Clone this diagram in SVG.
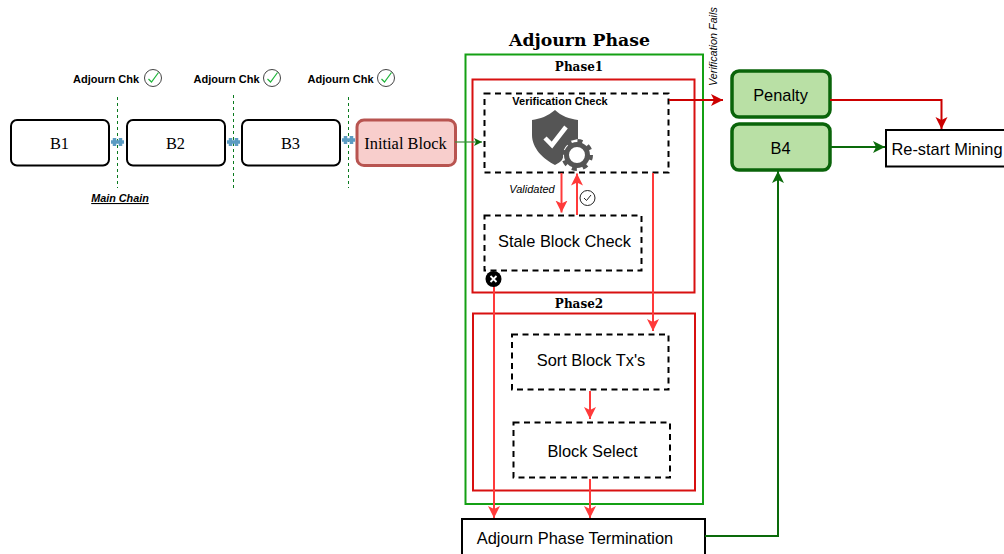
<svg xmlns="http://www.w3.org/2000/svg" width="1004" height="554" viewBox="0 0 1004 554">
<style>
.s{font-family:"Liberation Serif","Times New Roman",serif;fill:#000}
.d{font-family:"DejaVu Serif",serif;font-weight:bold;fill:#000}
.a{font-family:"Liberation Sans",Arial,sans-serif;fill:#000}
.b{fill:#fff;stroke:#000;stroke-width:2}
.t{font-size:16.400px;text-anchor:middle}
.dash{fill:none;stroke:#000;stroke-width:2;stroke-dasharray:6 4.500}
.vd{stroke:#0a7a1e;stroke-width:1;stroke-dasharray:3 3;fill:none}
.rb{fill:none;stroke:#d81010;stroke-width:2}
.c{fill:none;stroke:#ff3a3a;stroke-width:2}
.cr{fill:none;stroke:#cc0000;stroke-width:2}
.cg{fill:none;stroke:#0a6a0a;stroke-width:2}
.g{fill:#b9e0a5;stroke:#0a640a;stroke-width:3.500}
.k{font-size:11px;font-weight:bold;text-anchor:middle}
</style>
<defs>
<marker id="mr" markerUnits="userSpaceOnUse" markerWidth="14" markerHeight="14" refX="12" refY="6" orient="auto"><path d="M0 0L12 6L0 12L3 6Z" fill="#ff3a3a"/></marker>
<marker id="mc" markerUnits="userSpaceOnUse" markerWidth="14" markerHeight="14" refX="12" refY="6" orient="auto"><path d="M0 0L12 6L0 12L3 6Z" fill="#cc0000"/></marker>
<marker id="mg" markerUnits="userSpaceOnUse" markerWidth="14" markerHeight="14" refX="12" refY="6" orient="auto"><path d="M0 0L12 6L0 12L3 6Z" fill="#0a6a0a"/></marker>
<marker id="ms" markerUnits="userSpaceOnUse" markerWidth="10" markerHeight="10" refX="8" refY="4" orient="auto"><path d="M0 0L8 4L0 8L2 4Z" fill="#0a6a0a"/></marker>
<g id="tick"><circle cx="0" cy="0" r="8.500" fill="#fff" stroke="#444" stroke-width="1"/><path d="M-4.500 1L-1.500 4L5.500 -5.500" fill="none" stroke="#1fb53a" stroke-width="1.200"/></g>
<g id="link"><path d="M-6.500 0H6.500" stroke="#5b9bc2" stroke-width="3.500"/><path d="M-3 -4V4M3 -4V4" stroke="#5b9bc2" stroke-width="3.500"/></g>
</defs>

<g id="labels">
<text class="a k" x="106" y="83">Adjourn Chk</text><use href="#tick" x="153" y="78"/>
<text class="a k" x="226.500" y="83">Adjourn Chk</text><use href="#tick" x="272" y="78"/>
<text class="a k" x="340.500" y="83">Adjourn Chk</text><use href="#tick" x="386" y="78"/>
<text class="a" x="120" y="202" font-size="10.800" font-weight="bold" font-style="italic" text-anchor="middle" text-decoration="underline">Main Chain</text>
<text class="d" x="579.500" y="45.500" font-size="17.300" text-anchor="middle">Adjourn Phase</text>
<text class="d" x="579" y="71" font-size="12" text-anchor="middle">Phase1</text>
<text class="d" x="579" y="308" font-size="12" text-anchor="middle">Phase2</text>
<text class="a" x="532" y="193" font-size="11" font-style="italic" text-anchor="middle">Validated</text>
<text class="a" transform="translate(717 86) rotate(-90)" font-size="10.800" font-style="italic">Verification Fails</text>
</g>

<g id="chain-separators">
<path class="vd" d="M117.500 97V188"/><path class="vd" d="M233.500 95V190"/><path class="vd" d="M348.500 97V188"/>
</g>

<g id="phase-boxes">
<rect x="465.500" y="54.500" width="237.500" height="449.500" fill="none" stroke="#14a014" stroke-width="2"/>
<rect id="phase1" class="rb" x="472.500" y="79.500" width="222" height="213"/>
<rect id="phase2" class="rb" x="473" y="313.500" width="222" height="177"/>
</g>

<g id="B1"><rect class="b" x="11" y="120" width="98" height="45.500" rx="6"/><text class="s t" x="59.500" y="149">B1</text></g>
<g id="B2"><rect class="b" x="127" y="120" width="98" height="45.500" rx="6"/><text class="s t" x="175.500" y="149">B2</text></g>
<g id="B3"><rect class="b" x="242" y="120" width="98" height="45.500" rx="6"/><text class="s t" x="290.500" y="149">B3</text></g>
<g id="initial-block"><rect x="357" y="120" width="98.500" height="45.500" rx="7" fill="#f8cecc" stroke="#b85450" stroke-width="3"/><text class="s t" x="405.500" y="149">Initial Block</text></g>

<g id="verification-check">
<rect class="dash" x="484.500" y="93.500" width="184" height="79"/>
<text class="a" x="560" y="105" font-size="11" font-weight="bold" text-anchor="middle">Verification Check</text>
<path d="M555 110C548 116 540 119 532 120V135C532 148 543 159 555 165C558 163.500 560 162 562 160L570 141L578 139V120C570 119 561 116 555 110Z" fill="#555"/>
<path d="M545 138L552 145L566 127" fill="none" stroke="#fff" stroke-width="4.500"/>
<circle cx="577" cy="155" r="11.500" fill="#fff" stroke="#fff" stroke-width="5"/>
<circle cx="577" cy="155" r="10.500" fill="none" stroke="#555" stroke-width="5"/>
<circle cx="577" cy="155" r="14" fill="none" stroke="#555" stroke-width="4" stroke-dasharray="5 6"/>
</g>

<g id="stale-block-check"><rect class="dash" x="484.500" y="215.500" width="157" height="55"/><text class="a t" x="564.500" y="247">Stale Block Check</text></g>
<g id="sort-block"><rect class="dash" x="512" y="334.500" width="156.500" height="55"/><text class="a t" x="591" y="366">Sort Block Tx's</text></g>
<g id="block-select"><rect class="dash" x="513.500" y="422.500" width="156.500" height="55"/><text class="a t" x="592.500" y="457">Block Select</text></g>

<g id="termination"><rect class="b" x="462" y="519" width="243" height="40"/><text class="a t" x="575" y="544">Adjourn Phase Termination</text></g>
<g id="penalty"><rect class="g" x="732" y="71" width="98" height="46" rx="7"/><text class="a t" x="780.500" y="101">Penalty</text></g>
<g id="B4"><rect class="g" x="732" y="124" width="98" height="46" rx="7"/><text class="a t" x="780.500" y="154">B4</text></g>
<g id="restart"><rect class="b" x="886" y="130" width="124" height="36.500"/><text class="a t" x="947" y="155">Re-start Mining</text></g>

<g id="connectors">
<use href="#link" x="117.500" y="142"/>
<use href="#link" x="233.500" y="142"/>
<use href="#link" x="348.500" y="140"/>
<path d="M455 142H482" fill="none" stroke="#3c8c3c" stroke-width="1.200" marker-end="url(#ms)"/>
<path class="c" d="M561.500 173V212.500" marker-end="url(#mr)"/>
<path class="c" d="M577 215V173.500" marker-end="url(#mr)"/>
<path class="cr" d="M669 100H723" marker-end="url(#mc)"/>
<path class="c" d="M653 173V331" marker-end="url(#mr)"/>
<path class="c" d="M590 391V419" marker-end="url(#mr)"/>
<path class="c" d="M590 479V518" marker-end="url(#mr)"/>
<path class="c" d="M494 272V518" marker-end="url(#mr)"/>
<path class="cr" d="M830 100H941.500V129" marker-end="url(#mc)"/>
<path class="cg" d="M830 147H885" marker-end="url(#mg)"/>
<path class="cg" d="M705 536H778V171" marker-end="url(#mg)"/>
</g>

<g id="marks">
<circle cx="493.500" cy="279" r="8" fill="#000"/>
<path d="M490.500 276L496.500 282M496.500 276L490.500 282" stroke="#fff" stroke-width="1.800"/>
<circle cx="587.500" cy="198" r="7.500" fill="#fff" stroke="#222" stroke-width="1"/>
<path d="M584 198L586.500 200.500L591 195" fill="none" stroke="#222" stroke-width="1"/>
</g>
</svg>
